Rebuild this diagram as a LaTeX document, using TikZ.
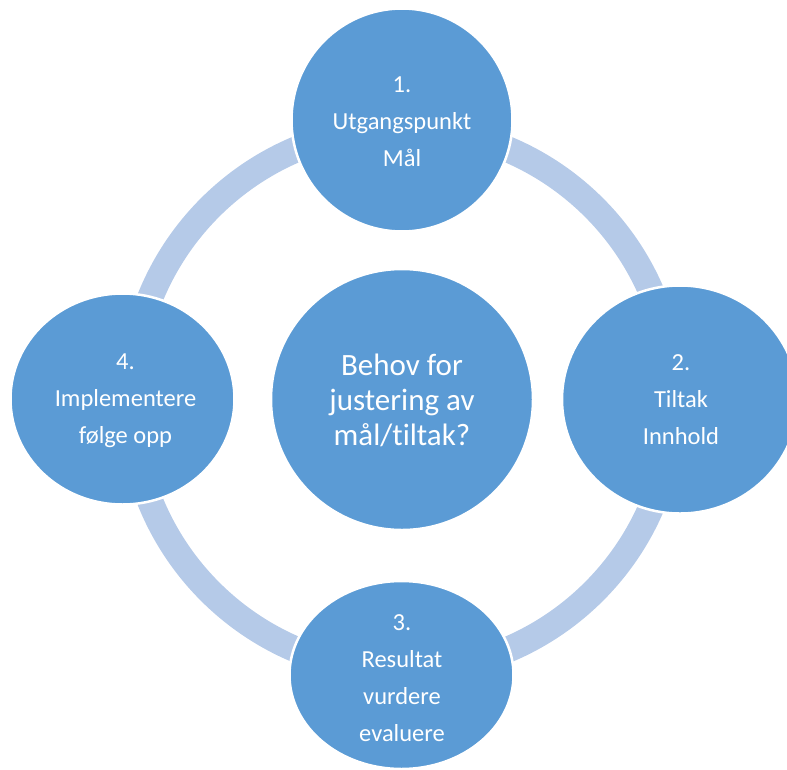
\documentclass[tikz,border=0pt]{standalone}
\usepackage{fontspec}
\setmainfont{Carlito}[Ligatures=NoCommon]
\usetikzlibrary{shapes.geometric}
\definecolor{blobfill}{HTML}{5B9BD5}
\definecolor{ringcol}{HTML}{B5CAE8}
\begin{document}
\begin{tikzpicture}[x=1pt,y=-1pt,
  blob/.style={ellipse, fill=blobfill, draw=white, line width=2.5pt, inner sep=0pt},
  txt/.style={text=white, align=center, inner sep=0pt},
  small/.style={font=\fontsize{24.5}{37}\selectfont},
  big/.style={font=\fontsize{31}{35}\selectfont},
  ring/.style={draw=ringcol, line width=26pt}]
\useasboundingbox (0,0) rectangle (787,769);
\clip (0,0) rectangle (787,769);
% centre
\node[blob, minimum width=262pt, minimum height=261pt] (mid) at (402,399.5) {};
\draw[ring] (mid.center) circle[radius=271.5];
% outer circles
\node[blob, minimum width=221pt, minimum height=223pt] (s1) at (402,120) {};
\node[blob, minimum width=236pt, minimum height=228pt] (s2) at (680,399.5) {};
\node[blob, minimum width=224pt, minimum height=188pt] (s3) at (401.5,675) {};
\node[blob, minimum width=224pt, minimum height=211pt] (s4) at (122.5,399) {};
% texts
\node[txt, big] (t0) at (402,400) {Behov for\\justering av\\mål/tiltak?};
\node[txt, small] (t1) at (402,121.5) {1.\\Utgangspunkt\\Mål};
\node[txt, small] (t2) at (681,399.5) {2.\\Tiltak\\Innhold};
\node[txt, small] (t3) at (402,678) {3.\\Resultat\\vurdere\\evaluere};
\node[txt, small] (t4) at (125.5,400.5) {4.\\Implementere\\følge opp};
\end{tikzpicture}
\end{document}
